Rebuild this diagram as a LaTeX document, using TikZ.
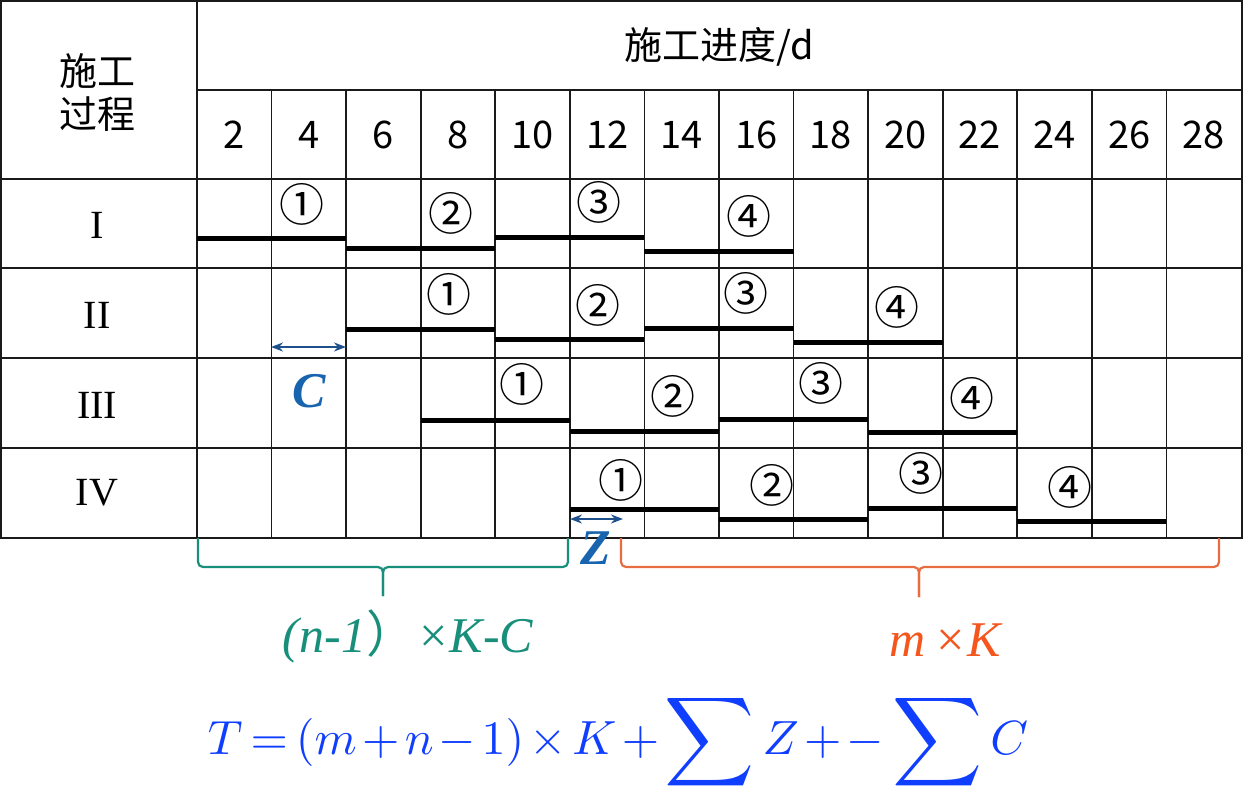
\documentclass[tikz,border=0pt]{standalone}
\usepackage{fontspec}
\usepackage{amsmath}
\usepackage{graphicx}
\usepackage{tikz}
\usetikzlibrary{arrows.meta}
\newfontfamily\cjk{Noto Sans CJK SC}
\newfontfamily\tnr{Liberation Serif}
\definecolor{gridline}{HTML}{1A1A1A}
\definecolor{tealbr}{RGB}{24,143,122}
\definecolor{orangebr}{RGB}{232,108,66}
\definecolor{orangetx}{RGB}{244,86,30}
\definecolor{formblue}{RGB}{16,62,255}
\definecolor{dimblue}{RGB}{30,80,140}
\definecolor{letblue}{RGB}{24,100,175}
\newcommand{\bigsum}{\mathop{\vcenter{\hbox{\scalebox{1.3}{$\displaystyle\sum$}}}}}

\begin{document}
\begin{tikzpicture}[x=1pt,y=-1pt,
  grid/.style={line width=1.6pt,gridline},
  bar/.style={line width=5pt,black},
  hd/.style={font=\cjk\fontsize{38}{43}\selectfont,inner sep=0pt},
  rowlab/.style={font=\tnr\fontsize{40}{44}\selectfont,inner sep=0pt},
  stepno/.style={font=\cjk\fontsize{45}{48}\selectfont,inner sep=0pt},
  dimarrow/.style={line width=2.4pt,dimblue,{Stealth[length=12pt,width=9pt]}-{Stealth[length=12pt,width=9pt]}},
  dimlab/.style={font=\tnr\bfseries\itshape\fontsize{50}{54}\selectfont,text=letblue,inner sep=0pt},
  brk/.style={line width=2.2pt,rounded corners=5pt},
  sumlab/.style={font=\tnr\itshape\fontsize{50}{54}\selectfont,inner sep=0pt}]
\useasboundingbox (0,0) rectangle (1243,793);

% table
\draw[grid] (0.8,0.8) rectangle (1242,538);
\draw[grid] (197,90) -- (1242,90);
\foreach \y in {179,268,358,448}
  \draw[grid] (0,\y) -- (1242,\y);
\draw[grid] (197,0) -- (197,538);
\foreach \i in {1,...,13}
  \draw[grid] ({197+\i*74.57},90) -- ({197+\i*74.57},538);

\node[hd] (jd) at (719,47) {施工进度/d};
\node[hd,align=center] (gc) at (97,92) {施工\\过程};
\foreach \d [count=\i] in {2,4,...,28}
  \node[hd] (d\d) at ({197+(\i-0.5)*74.57},135) {\d};

\node[rowlab] (p1) at (97,225) {I};
\node[rowlab] (p2) at (97,315) {II};
\node[rowlab] (p3) at (97,405) {III};
\node[rowlab] (p4) at (97,493) {IV};

% bars
\foreach \a/\b/\y in {0/2/238, 2/4/248, 4/6/237, 6/8/251,
                      2/4/329, 4/6/339, 6/8/328, 8/10/342,
                      3/5/420, 5/7/431, 7/9/419, 9/11/432,
                      5/7/509, 7/9/519, 9/11/508, 11/13/521}
  \draw[bar] ({197+\a*74.57},\y) -- ({197+\b*74.57},\y);

% section numbers
\foreach \r/\k/\x/\y/\t in {1/1/302/204/①, 1/2/451/213/②, 1/3/599/202/③, 1/4/749/216/④,
                            2/1/449/294/①, 2/2/598/305/②, 2/3/746/293/③, 2/4/897/307/④,
                            3/1/522/384/①, 3/2/673/396/②, 3/3/821/383/③, 3/4/972/398/④,
                            4/1/621/480/①, 4/2/772/485/②, 4/3/921/473/③, 4/4/1070/487/④}
  \node[stepno] (s\r\k) at (\x,\y) {\t};

% C and Z
\coordinate (cl) at (271,347);
\coordinate (cr) at (346,347);
\draw[dimarrow] (cl) -- (cr);
\node[dimlab] (clab) at (309,391) {C};
\coordinate (zl) at (570,519);
\coordinate (zr) at (623,519);
\draw[dimarrow] (zl) -- (zr);
\node[dimlab] (zlab) at (596,548) {Z};

% brackets
\coordinate (b1l) at (198,538);
\coordinate (b1r) at (568,538);
\coordinate (b1t) at (383,567);
\coordinate (b1tip) at (383,596);
\draw[brk,tealbr] (b1l) |- (b1t) -- (b1tip);
\draw[brk,tealbr] (b1r) |- (b1t) -- (b1tip);
\coordinate (b2l) at (621,538);
\coordinate (b2r) at (1219,538);
\coordinate (b2t) at (919,567);
\coordinate (b2tip) at (919,597);
\draw[brk,orangebr] (b2l) |- (b2t) -- (b2tip);
\draw[brk,orangebr] (b2r) |- (b2t) -- (b2tip);

\node[sumlab,text=tealbr] (nk) at (408,636) {(n-1{\cjk ）}×K-C};
\node[sumlab,text=orangetx] (mk) at (945,640) {m\,×K};

\node[text=formblue] (tt) at (618,742)
  {\scalebox{4.8}{\medmuskip=2mu \thickmuskip=3mu
   $T=(m+n-1)\times K+\bigsum Z+-\bigsum C$}};
\end{tikzpicture}
\end{document}
